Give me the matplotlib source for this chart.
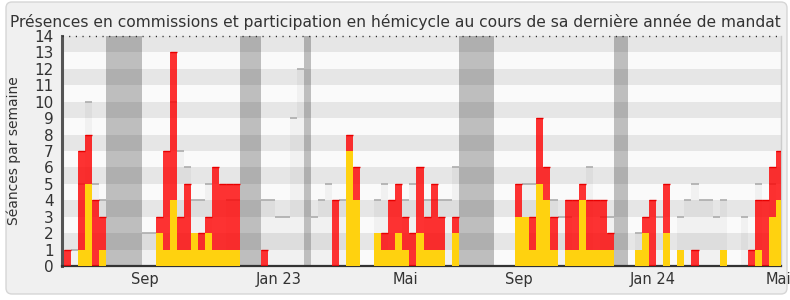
import matplotlib
matplotlib.use("Agg")
import matplotlib.pyplot as plt
from matplotlib.patches import FancyBboxPatch
import numpy as np

# ---- data (one entry per week) ----
total_sessions = [1, 0, 7, 8, 4, 3, 0, 0, 0, 0, 0, 0, 0, 3, 7, 13, 3, 5, 2, 2,
                  3, 6, 5, 5, 5, 0, 0, 0, 1, 0, 0, 0, 0, 0, 0, 0, 0, 0, 4, 0,
                  8, 6, 0, 0, 2, 2, 4, 5, 3, 2, 6, 3, 5, 3, 0, 3, 0, 0, 0, 0,
                  0, 0, 0, 0, 5, 3, 3, 9, 6, 3, 0, 4, 4, 5, 4, 4, 4, 2, 0, 0,
                  0, 1, 3, 4, 0, 5, 0, 1, 0, 1, 0, 0, 0, 1, 0, 0, 0, 1, 4, 4,
                  6, 7]
commission = [0, 0, 1, 5, 0, 1, 0, 0, 0, 0, 0, 0, 0, 2, 1, 4, 1, 1, 2, 1,
              2, 1, 1, 1, 1, 0, 0, 0, 0, 0, 0, 0, 0, 0, 0, 0, 0, 0, 0, 0,
              7, 4, 0, 0, 2, 1, 1, 2, 1, 0, 2, 1, 1, 1, 0, 2, 0, 0, 0, 0,
              0, 0, 0, 0, 3, 3, 1, 5, 4, 1, 0, 1, 1, 4, 1, 1, 1, 1, 0, 0,
              0, 1, 2, 0, 0, 2, 0, 1, 0, 0, 0, 0, 0, 1, 0, 0, 0, 0, 1, 0,
              3, 4]
median_deputes = [0, 1, 5, 10, 5, 4, 0, 0, 0, 0, 0, 2, 2, 0, 0, 10, 7, 6, 4, 4,
                  5, 0, 0, 4, 4, 0, 0, 0, 4, 4, 3, 3, 9, 12, 0, 3, 4, 5, 0, 4,
                  0, 0, 0, 0, 4, 5, 0, 0, 4, 5, 0, 4, 4, 4, 4, 6, 0, 0, 0, 0,
                  0, 0, 0, 0, 0, 5, 5, 0, 0, 4, 3, 3, 0, 0, 6, 0, 3, 3, 0, 0,
                  0, 2, 0, 0, 3, 0, 0, 3, 4, 5, 4, 4, 3, 4, 0, 0, 3, 0, 5, 0,
                  5, 0]
vacation_weeks = [6, 7, 8, 9, 10, 25, 26, 27, 34, 56, 57, 58, 59, 60, 78, 79]
month_labels = ["Sep", "Jan 23", "Mai", "Sep", "Jan 24", "Mai"]
month_positions = [11.5, 30.4, 48.4, 64.5, 83.5, 101.3]
title = ("Présences en commissions et participation en hémicycle "
         "au cours de sa dernière année de mandat")

W, H = 790, 300
fig = plt.figure(figsize=(W / 100, H / 100), dpi=100)
fig.patch.set_facecolor("white")
fig.patches.append(FancyBboxPatch((6, 6), 781, 292,
                                  boxstyle="round,pad=0,rounding_size=6",
                                  transform=None, facecolor="#f0f0f0",
                                  edgecolor="#d6d6d6", linewidth=1, zorder=-10))

ax = fig.add_axes([62 / W, 34 / H, 719 / W, 230 / H])
ax.set_facecolor("#fafafa")
n = len(total_sessions)
weeks = np.arange(n)
ymax = 14

# horizontal stripes
for k in range(1, ymax, 2):
    ax.axhspan(k, k + 1, color="#e6e6e6", lw=0, zorder=0)

# vacations
for w in vacation_weeks:
    ax.axvspan(w, w + 1, color="black", alpha=0.24, lw=0, zorder=1)

# median of all deputies
med = np.array(median_deputes)
m = med > 0
ax.bar(weeks[m], med[m], width=1, align="edge", color="black", alpha=0.035,
       lw=0, zorder=2)
ax.hlines(med[m], weeks[m], weeks[m] + 1, color="#acacac", lw=1.2, zorder=3)

# hemicycle (red) and commission (yellow)
tot = np.array(total_sessions)
com = np.array(commission)
t = tot > 0
ax.bar(weeks[t], tot[t], width=1, align="edge", color=(1, 0, 0, 0.8),
       lw=0, zorder=4)
edge = tot > com
ax.hlines(tot[edge], weeks[edge], weeks[edge] + 1, color="#e80000", lw=1.0,
          zorder=5)
c = com > 0
ax.bar(weeks[c], com[c], width=1, align="edge", color="#ffd20f",
       lw=0, zorder=6)

ax.set_xlim(-0.28, 101.7)
ax.set_ylim(0, ymax)
ax.set_yticks(range(0, ymax + 1))
ax.set_xticks(month_positions)
ax.set_xticklabels(month_labels)
ax.tick_params(axis="both", length=0, colors="#333333", labelsize=10.5)
ax.tick_params(axis="y", pad=6, labelsize=11)
ax.tick_params(axis="x", pad=4)

ax.spines["top"].set_visible(False)
ax.plot([0, 1], [1, 1], transform=ax.transAxes, color="#222222", lw=1,
        linestyle=(0, (0.8, 4)), clip_on=False, zorder=7)
ax.spines["left"].set_color("#555555")
ax.spines["left"].set_linewidth(2.2)
ax.spines["bottom"].set_color("#333333")
ax.spines["bottom"].set_linewidth(1.6)
ax.spines["right"].set_color("#cccccc")
ax.spines["right"].set_linewidth(1)

fig.text(0.5, 1 - 27 / H, title, ha="center", va="baseline",
         fontsize=11.2, color="#333333")
fig.text(14 / W, 1 - 151 / H, "Séances par semaine", rotation=90,
         ha="center", va="center", fontsize=10, color="#333333")

fig.savefig("out.png", dpi=100, facecolor=fig.get_facecolor())
